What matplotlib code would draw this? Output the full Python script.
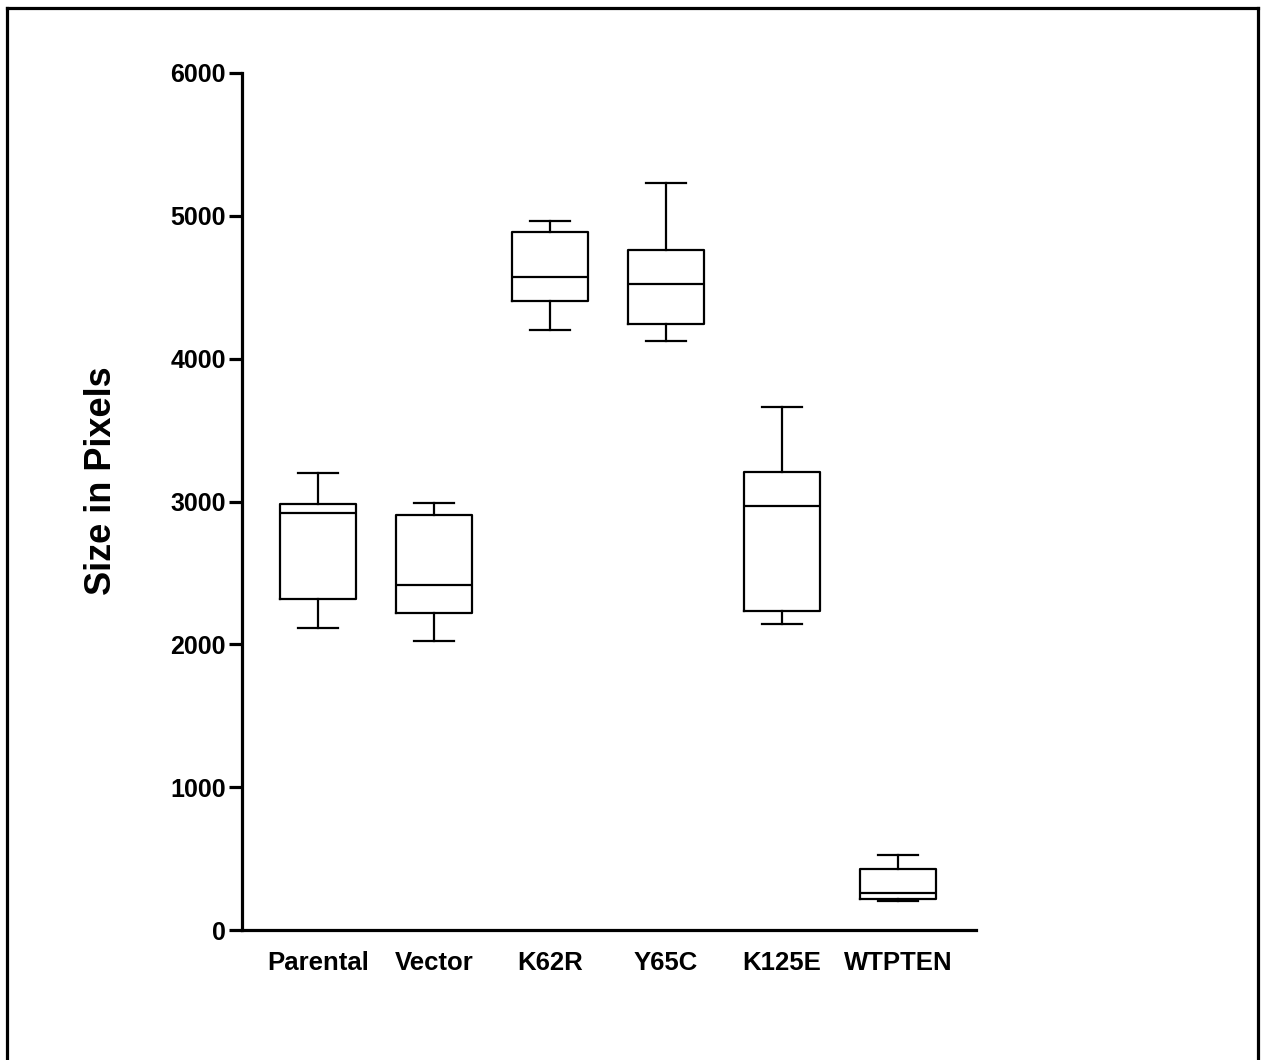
import matplotlib
matplotlib.use("Agg")
import matplotlib.pyplot as plt
from matplotlib.lines import Line2D

# box-and-whisker summaries (min / Q1 / median / Q3 / max), size in pixels
groups = ["Parental", "Vector", "K62R", "Y65C", "K125E", "WTPTEN"]
whisk_lo = [2113, 2026, 4203, 4124, 2145, 205]
q1 = [2314, 2217, 4401, 4240, 2236, 217]
median = [2918, 2415, 4569, 4523, 2969, 256]
q3 = [2981, 2906, 4884, 4758, 3209, 429]
whisk_hi = [3202, 2987, 4966, 5232, 3659, 525]

yticks = [0, 1000, 2000, 3000, 4000, 5000, 6000]

plt.rcParams["font.family"] = ["Liberation Sans", "DejaVu Sans"]

fig = plt.figure(figsize=(12.67, 10.6), dpi=100)
ax = fig.add_axes([242 / 1267, 130 / 1060, 734 / 1267, 857 / 1060])

stats = []
for i, g in enumerate(groups):
    stats.append(dict(label=g, whislo=whisk_lo[i], q1=q1[i], med=median[i],
                      q3=q3[i], whishi=whisk_hi[i], fliers=[]))

pos = list(range(len(groups)))
line_kw = dict(color="black", linewidth=1.6)
ax.bxp(stats, positions=pos, widths=0.655, capwidths=0.345, showfliers=False,
       boxprops=line_kw, medianprops=line_kw, whiskerprops=line_kw,
       capprops=line_kw)

ax.set_xlim(-0.655, 5.672)
ax.set_ylim(0, 6000)
ax.set_yticks(yticks)
ax.set_yticklabels([str(t) for t in yticks])

for side in ("top", "right"):
    ax.spines[side].set_visible(False)
for side in ("left", "bottom"):
    ax.spines[side].set_linewidth(2.3)

ax.tick_params(axis="y", length=9.5, width=2.3, pad=2, labelsize=18)
ax.tick_params(axis="x", length=0, pad=15, labelsize=18.5)
for lbl in ax.get_xticklabels() + ax.get_yticklabels():
    lbl.set_fontweight("bold")

ax.set_ylabel("Size in Pixels", fontsize=26, fontweight="bold")
ax.yaxis.set_label_coords(-0.168, 0.524)

# outer frame (left, top, right edges)
frame_kw = dict(color="black", linewidth=2.3, transform=fig.transFigure)
x0, x1, ytop = 7 / 1267, 1258 / 1267, 1 - 8 / 1060
fig.add_artist(Line2D([x0, x0], [0, ytop], **frame_kw))
fig.add_artist(Line2D([x0, x1], [ytop, ytop], **frame_kw))
fig.add_artist(Line2D([x1, x1], [ytop, 0], **frame_kw))

fig.savefig("out.png", dpi=100)
